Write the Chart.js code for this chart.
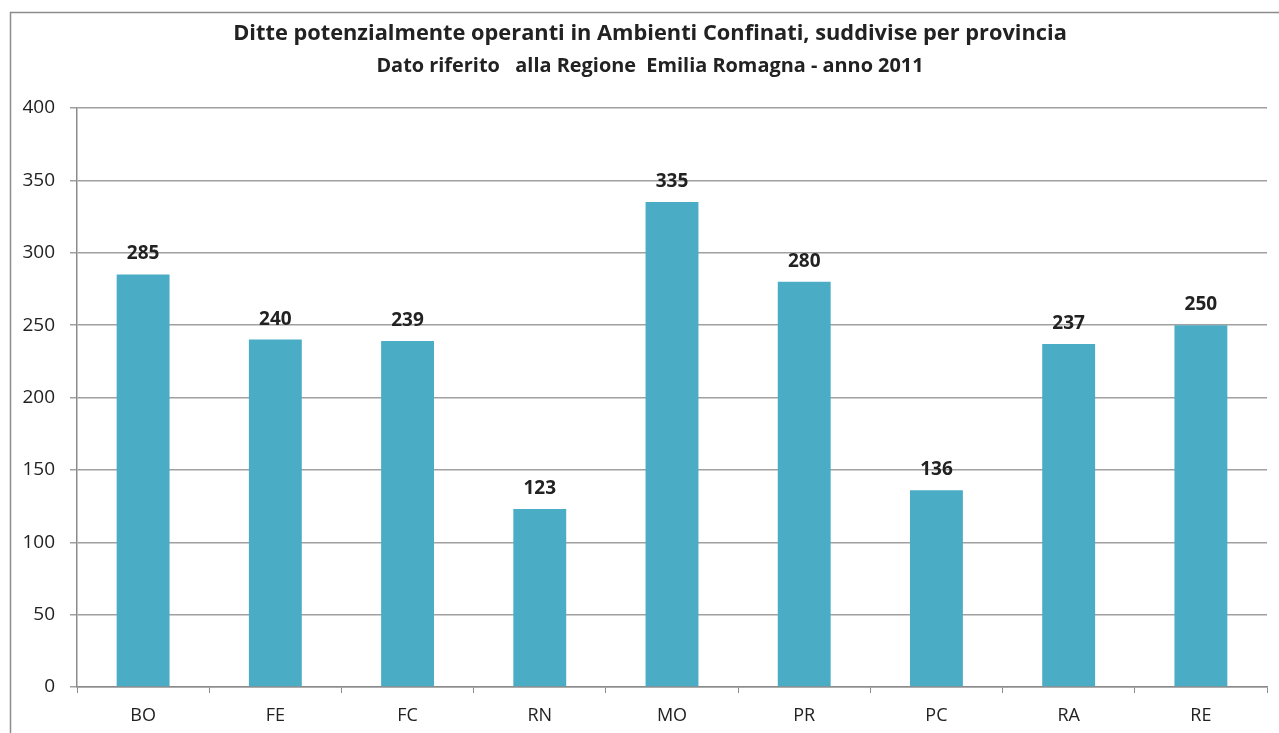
<!DOCTYPE html>
<html>
<head>
<meta charset="utf-8">
<script src="https://cdn.jsdelivr.net/npm/chart.js@4"></script>
<style>
    html, body { margin: 0; padding: 0; background: #fff; }
    #wrap { width: 1279px; height: 733px; }
</style>
</head>
<body>
<div id="wrap"><canvas id="provinceChart" width="1279" height="733"></canvas></div>
<script>
const provinces = ["BO", "FE", "FC", "RN", "MO", "PR", "PC", "RA", "RE"];
const companies = [285, 240, 239, 123, 335, 280, 136, 237, 250];
const yTicks = [0, 50, 100, 150, 200, 250, 300, 350, 400];

const titleText = "Ditte potenzialmente operanti in Ambienti Confinati, suddivise per provincia";
const subtitleText = "Dato riferito   alla Regione  Emilia Romagna - anno 2011";

const FONT = "'Open Sans', Lato, sans-serif";

// outer frame, only left and top edges are visible in the picture
const framePlugin = {
    id: 'frame',
    beforeDraw(chart) {
        const ctx = chart.ctx;
        ctx.save();
        ctx.strokeStyle = "#8c8c8c";
        ctx.lineWidth = 1.5;
        ctx.strokeRect(10.5, 12.5, chart.width + 20, chart.height + 20);
        ctx.restore();
    }
};

// titles, centred a bit right of the canvas middle like the original
const titlesPlugin = {
    id: 'titles',
    afterDraw(chart) {
        const ctx = chart.ctx;
        ctx.save();
        ctx.fillStyle = "#222";
        ctx.textAlign = "center";
        ctx.textBaseline = "middle";
        ctx.font = "bold 21.8px " + FONT;
        ctx.fillText(titleText, 650, 34);
        ctx.font = "bold 19.9px " + FONT;
        ctx.fillText(subtitleText, 650, 66);
        ctx.restore();
    }
};

// value labels over the bars
const valueLabels = {
    id: 'valueLabels',
    afterDatasetsDraw(chart) {
        const ctx = chart.ctx;
        const meta = chart.getDatasetMeta(0);
        ctx.save();
        ctx.fillStyle = "#222";
        ctx.font = "bold 19px " + FONT;
        ctx.textAlign = "center";
        ctx.textBaseline = "alphabetic";
        meta.data.forEach((bar, i) => {
            ctx.fillText(companies[i], bar.x, bar.y - 15);
        });
        ctx.restore();
    }
};

new Chart(document.getElementById('provinceChart').getContext('2d'), {
    type: 'bar',
    data: {
        labels: provinces,
        datasets: [{
            data: companies,
            backgroundColor: '#4BACC6',
            borderWidth: 0,
            barPercentage: 0.4,
            categoryPercentage: 1
        }]
    },
    options: {
        responsive: false,
        animation: false,
        layout: { padding: { left: 0, right: 12, top: 108, bottom: 0 } },
        plugins: {
            legend: { display: false },
            tooltip: { enabled: false },
            title: { display: false }
        },
        scales: {
            x: {
                afterFit(scale) { scale.height = 46; },
                grid: {
                    drawOnChartArea: false,
                    drawTicks: true,
                    tickLength: 6,
                    color: '#8c8c8c',
                    offset: true
                },
                border: { color: '#8c8c8c', width: 1.5 },
                ticks: {
                    color: '#222',
                    font: { family: FONT, size: 18 },
                    padding: 12
                }
            },
            y: {
                min: 0,
                max: 400,
                afterFit(scale) { scale.width = 77; },
                afterBuildTicks(scale) { scale.ticks = yTicks.map(v => ({ value: v })); },
                grid: {
                    color: '#a0a0a0',
                    lineWidth: 1.5,
                    tickLength: 7
                },
                border: { color: '#8c8c8c', width: 1.5 },
                ticks: {
                    color: '#222',
                    font: { family: FONT, size: 19 },
                    padding: 15
                }
            }
        }
    },
    plugins: [framePlugin, valueLabels, titlesPlugin]
});
</script>
</body>
</html>
